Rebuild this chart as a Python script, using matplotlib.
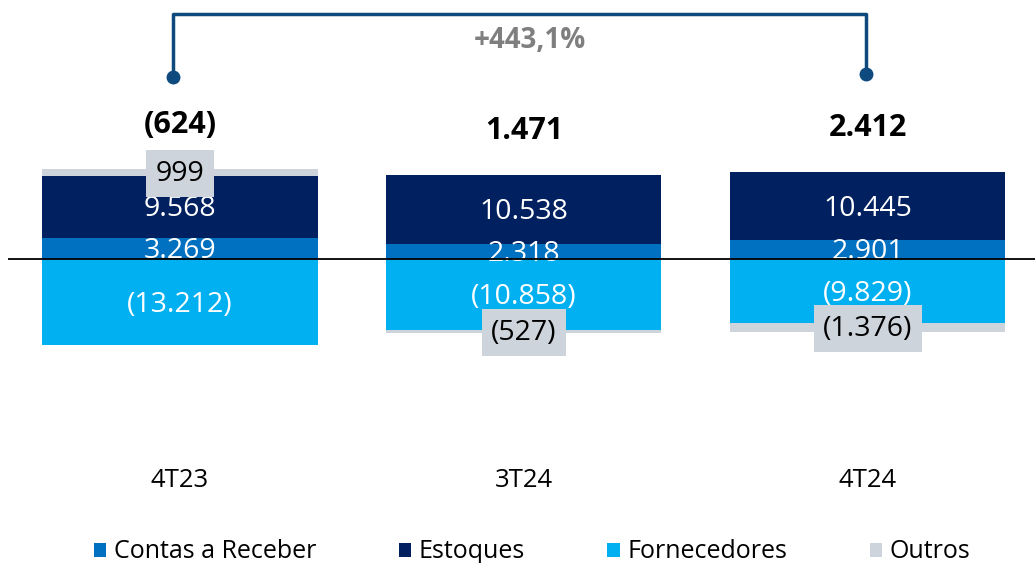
import matplotlib.pyplot as plt
from matplotlib.patches import Patch

plt.rcParams['font.family'] = ['Open Sans', 'DejaVu Sans']

# dados (R$ mil)
periodos = ['4T23', '3T24', '4T24']
contas_receber = [3269, 2318, 2901]
estoques = [9568, 10538, 10445]
fornecedores = [-13212, -10858, -9829]
outros = [999, -527, -1376]
totais = [-624, 1471, 2412]
variacao = '+443,1%'

cores = {'Contas a Receber': '#0070C0', 'Estoques': '#002060',
         'Fornecedores': '#00B0F0', 'Outros': '#CDD4DC'}


def fmt(v):
    s = '{:,}'.format(abs(v)).replace(',', '.')
    return '(' + s + ')' if v < 0 else s


fig = plt.figure(figsize=(10.35, 5.63), dpi=100)
ax = fig.add_axes([8 / 1035, 0, 1 - 8 / 1035, 1])
ax.set_xlim(-0.5, 2.486)
ax.set_ylim(-46769, 39846)
ax.axis('off')

x = list(range(len(periodos)))
w = 0.8

# empilhamento: positivos pra cima, negativos pra baixo
pos = [0] * 3
neg = [0] * 3
series = [('Contas a Receber', contas_receber), ('Estoques', estoques),
          ('Fornecedores', fornecedores), ('Outros', outros)]
for nome, vals in series:
    base = [pos[i] if vals[i] >= 0 else neg[i] for i in x]
    ax.bar(x, vals, w, bottom=base, color=cores[nome], edgecolor='none')
    for i in x:
        yc = base[i] + vals[i] / 2
        if nome == 'Outros':
            ax.annotate(fmt(vals[i]), (i, yc), xytext=(0, -1), textcoords='offset points',
                        ha='center', va='center', fontsize=20.5, color='black',
                        bbox=dict(boxstyle='square,pad=0.33', fc=cores['Outros'], ec='none'))
        else:
            ax.annotate(fmt(vals[i]), (i, yc), xytext=(0, -2), textcoords='offset points',
                        ha='center', va='center', fontsize=20.5, color='white')
        if vals[i] >= 0:
            pos[i] += vals[i]
        else:
            neg[i] += vals[i]

# linha do zero
ax.axhline(0, color='black', lw=1.3, zorder=5)

# totais
for i in x:
    ax.annotate(fmt(totais[i]), (i, pos[i]), xytext=(0, 32), textcoords='offset points',
                ha='center', va='center', fontsize=22, fontweight='bold', color='black')

# rotulos das categorias
for i in x:
    ax.text(i, -34000, periodos[i], ha='center', va='center', fontsize=18.5, color='black')

# chave de variacao
cor_chave = '#0E4A7E'
xl, xr = -0.02, 1.994
ax.plot([xl, xl, xr, xr], [28300, 37700, 37700, 28700], color=cor_chave, lw=2.5,
        solid_capstyle='butt')
ax.plot([xl], [28000], 'o', color=cor_chave, ms=9)
ax.plot([xr], [28400], 'o', color=cor_chave, ms=9)
ax.text((xl + xr) / 2 + 0.03, 33600, variacao, ha='center', va='center', fontsize=20,
        fontweight='bold', color='#7F7F7F')

# legenda
handles = [Patch(facecolor=cores[n], edgecolor='none', label=n) for n in cores]
fig.legend(handles=handles, loc='center', bbox_to_anchor=(532 / 1035, 11 / 563), ncol=4,
           frameon=False, fontsize=18, handlelength=0.5, handleheight=0.5,
           handletextpad=0.3, columnspacing=3.3, borderpad=0, borderaxespad=0)

fig.savefig('out.png', dpi=100)
